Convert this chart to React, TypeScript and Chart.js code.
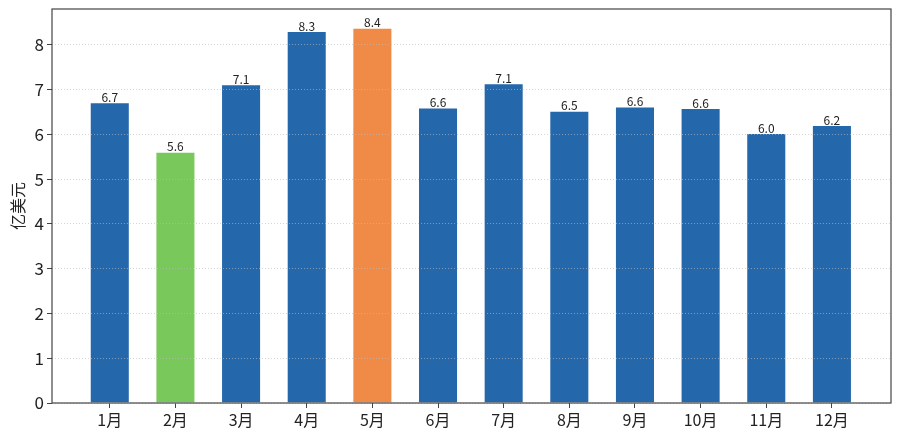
import React, { useRef, useEffect } from 'react';
import Chart from 'chart.js/auto';

const months = ['1月', '2月', '3月', '4月', '5月', '6月', '7月', '8月', '9月', '10月', '11月', '12月'];
const sales = [6.72, 5.61, 7.12, 8.31, 8.38, 6.6, 7.14, 6.53, 6.62, 6.59, 6.03, 6.21];
const barColors = [
  '#2567ab', '#79c85b', '#2567ab', '#2567ab', '#ef8b46', '#2567ab',
  '#2567ab', '#2567ab', '#2567ab', '#2567ab', '#2567ab', '#2567ab',
];
const yTicks = [0, 1, 2, 3, 4, 5, 6, 7, 8];

const FONT = '"Noto Sans CJK SC", "Noto Sans", sans-serif';

const frame = {
  id: 'frame',
  afterDraw(chart: any) {
    const { ctx, chartArea: a } = chart;
    ctx.save();
    ctx.strokeStyle = '#444';
    ctx.lineWidth = 1.2;
    ctx.strokeRect(a.left, a.top, a.right - a.left, a.bottom - a.top);
    ctx.restore();
  },
};

const valueLabels = {
  id: 'valueLabels',
  afterDatasetsDraw(chart: any) {
    const { ctx } = chart;
    const meta = chart.getDatasetMeta(0);
    ctx.save();
    ctx.font = `12px ${FONT}`;
    ctx.fillStyle = '#222';
    ctx.textAlign = 'center';
    ctx.textBaseline = 'bottom';
    meta.data.forEach((bar: any, i: number) => {
      ctx.fillText(sales[i].toFixed(1), bar.x, bar.y + 1);
    });
    ctx.restore();
  },
};

const SalesChart: React.FC = () => {
  const canvasRef = useRef<HTMLCanvasElement | null>(null);
  const chartRef = useRef<Chart | null>(null);

  useEffect(() => {
    document.body.style.margin = '0';
    const ctx = canvasRef.current?.getContext('2d');
    if (!ctx) return;
    if (chartRef.current) chartRef.current.destroy();

    chartRef.current = new Chart(ctx, {
      type: 'bar',
      data: {
        datasets: [
          {
            data: sales.map((v, i) => ({ x: i, y: v })),
            backgroundColor: barColors,
            borderColor: 'rgba(255,255,255,0.55)',
            borderWidth: 1,
            categoryPercentage: 1,
            barPercentage: 0.61,
          },
        ],
      },
      options: {
        responsive: false,
        animation: false,
        layout: { padding: { left: 8, top: 9, right: 9, bottom: 0 } },
        plugins: {
          legend: { display: false },
          tooltip: { enabled: false },
        },
        scales: {
          x: {
            type: 'linear',
            offset: false,
            min: -0.88,
            max: 11.9,
            afterBuildTicks: (axis: any) => {
              axis.ticks = months.map((_, i) => ({ value: i }));
            },
            afterFit: (axis: any) => {
              axis.height = 37;
              axis.paddingLeft = 0;
              axis.paddingRight = 0;
            },
            grid: {
              offset: false,
              drawOnChartArea: false,
              drawTicks: true,
              tickLength: 5,
              tickColor: '#444',
            },
            border: { display: false },
            ticks: {
              autoSkip: false,
              maxRotation: 0,
              padding: 2,
              color: '#222',
              font: { family: FONT, size: 16 },
              callback: (v: any) => months[v] ?? '',
            },
          },
          y: {
            min: 0,
            max: 8.8,
            afterBuildTicks: (axis: any) => {
              axis.ticks = yTicks.map((v) => ({ value: v }));
            },
            afterFit: (axis: any) => {
              axis.width = 44;
              axis.paddingTop = 0;
              axis.paddingBottom = 0;
            },
            grid: {
              color: 'rgba(190,190,190,0.6)',
              lineWidth: 1,
              z: 1,
              drawTicks: true,
              tickLength: 5,
              tickColor: '#444',
              tickBorderDash: [],
            },
            border: { display: false, dash: [1, 2] },
            ticks: {
              padding: 3,
              color: '#222',
              font: { family: FONT, size: 17 },
            },
            title: {
              display: true,
              text: '亿美元',
              color: '#222',
              padding: { top: 0, bottom: 0 },
              font: { family: FONT, size: 16 },
            },
          },
        },
      },
      plugins: [frame, valueLabels],
    } as any);

    return () => {
      if (chartRef.current) {
        chartRef.current.destroy();
        chartRef.current = null;
      }
    };
  }, []);

  return <canvas ref={canvasRef} width={900} height={440} />;
};

export default function App() {
  return <SalesChart />;
}
